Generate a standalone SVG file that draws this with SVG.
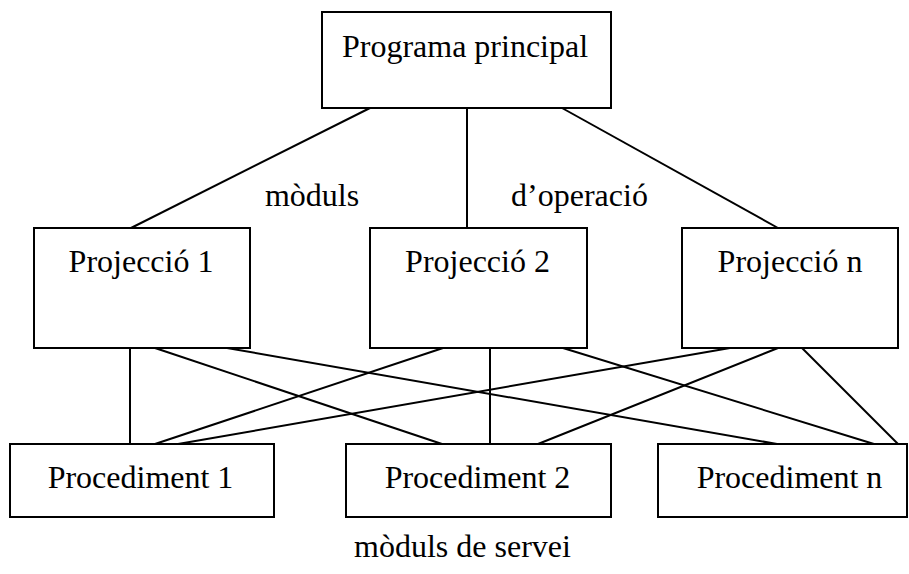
<svg xmlns="http://www.w3.org/2000/svg" width="909" height="574" viewBox="0 0 909 574">
<style>
.box{fill:#fff;stroke:#000;stroke-width:2}
.lnk{stroke:#000;stroke-width:2;fill:none}
text{font-family:"Liberation Serif","Times New Roman",serif;font-size:32px;fill:#000;text-anchor:middle}
</style>
<rect width="909" height="574" fill="#fff"/>
<g id="connectors">
<line class="lnk" x1="370" y1="108" x2="131" y2="228"/>
<line class="lnk" x1="467" y1="108" x2="467" y2="228"/>
<line class="lnk" x1="562" y1="108" x2="778" y2="228"/>
<line class="lnk" x1="130" y1="348" x2="130" y2="444"/>
<line class="lnk" x1="155" y1="348" x2="442" y2="444"/>
<line class="lnk" x1="227" y1="348" x2="777" y2="444"/>
<line class="lnk" x1="443" y1="348" x2="155" y2="444"/>
<line class="lnk" x1="490" y1="348" x2="490" y2="444"/>
<line class="lnk" x1="563" y1="348" x2="874" y2="444"/>
<line class="lnk" x1="730" y1="348" x2="178" y2="444"/>
<line class="lnk" x1="778" y1="348" x2="538" y2="444"/>
<line class="lnk" x1="802" y1="348" x2="898" y2="444"/>
</g>
<g id="programa">
<rect class="box" x="322" y="12" width="289" height="96"/>
<text x="465" y="57">Programa principal</text>
</g>
<g id="proj1">
<rect class="box" x="34" y="228" width="216" height="120"/>
<text x="141" y="272">Projecció 1</text>
</g>
<g id="proj2">
<rect class="box" x="370" y="228" width="217" height="120"/>
<text x="477.5" y="272">Projecció 2</text>
</g>
<g id="projn">
<rect class="box" x="682" y="228" width="216" height="120"/>
<text x="790" y="272">Projecció n</text>
</g>
<g id="proc1">
<rect class="box" x="10" y="444" width="264" height="73"/>
<text x="140.5" y="488">Procediment 1</text>
</g>
<g id="proc2">
<rect class="box" x="346" y="444" width="265" height="73"/>
<text x="477.5" y="488">Procediment 2</text>
</g>
<g id="procn">
<rect class="box" x="658" y="444" width="249" height="73"/>
<text x="789.5" y="488">Procediment n</text>
</g>
<g id="labels">
<text x="312" y="206">mòduls</text>
<text x="579.5" y="206">d’operació</text>
<text x="462.5" y="557">mòduls de servei</text>
</g>
</svg>
